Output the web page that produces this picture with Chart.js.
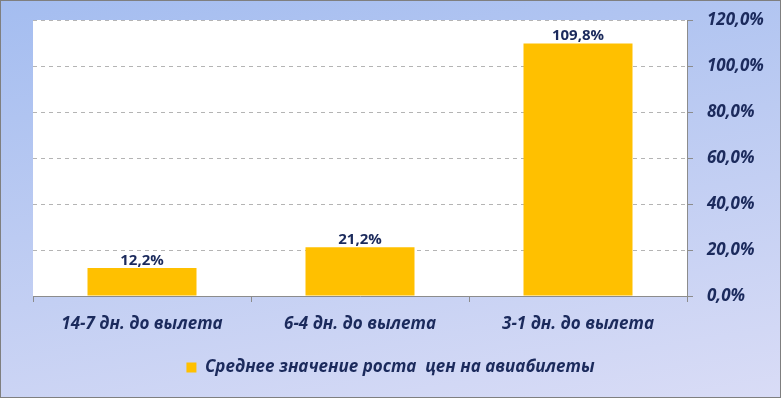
<!DOCTYPE html>
<html>
<head>
<meta charset="utf-8">
<script src="https://cdn.jsdelivr.net/npm/chart.js@4.4.1/dist/chart.umd.min.js"></script>
<style>
  html, body { margin: 0; padding: 0; }
  #wrap {
    position: relative;
    width: 779px; height: 396px;
    border: 1px solid #7f7f7f;
    background: linear-gradient(170deg, #a4bdf0 0%, #bccbf2 45%, #d9dcf6 100%);
  }
  canvas { display: block; }
</style>
</head>
<body>
<div id="wrap"><canvas id="c" width="779" height="396"></canvas></div>
<script>
// данные графика
const categories = ["14-7 дн. до вылета", "6-4 дн. до вылета", "3-1 дн. до вылета"];
const growthValues = [12.2, 21.2, 109.8];
const seriesName = "Среднее значение роста  цен на авиабилеты";
const yTicks = [0, 20, 40, 60, 80, 100, 120];

const navy = "#1b2a5c";
const fmt = (v, d) => v.toFixed(d).replace(".", ",") + "%";

// белая область построения
const plotBg = {
  id: "plotBg",
  beforeDraw(chart) {
    const { ctx, chartArea: a } = chart;
    ctx.save();
    ctx.fillStyle = "#ffffff";
    ctx.fillRect(a.left, a.top, a.right - a.left, a.bottom - a.top);
    ctx.restore();
  }
};

// подписи значений над столбцами
const valueLabels = {
  id: "valueLabels",
  afterDatasetsDraw(chart) {
    const ctx = chart.ctx;
    const meta = chart.getDatasetMeta(0);
    ctx.save();
    ctx.fillStyle = navy;
    ctx.font = "bold 15px 'Open Sans', sans-serif";
    ctx.textAlign = "center";
    ctx.textBaseline = "bottom";
    meta.data.forEach((bar, i) => {
      ctx.fillText(fmt(growthValues[i], 1), bar.x, bar.y);
    });
    ctx.restore();
  }
};

const axisFont = { family: "'Open Sans', sans-serif", size: 17, weight: "bold", style: "italic" };

new Chart(document.getElementById("c"), {
  type: "bar",
  data: {
    labels: categories,
    datasets: [{
      label: seriesName,
      data: growthValues,
      backgroundColor: "#ffc000",
      borderWidth: 0,
      categoryPercentage: 0.5,
      barPercentage: 1.0
    }]
  },
  options: {
    responsive: false,
    animation: false,
    layout: { padding: { left: 0, top: 19, right: 0, bottom: 11 } },
    plugins: {
      legend: {
        position: "bottom",
        labels: {
          color: navy,
          font: axisFont,
          boxWidth: 10,
          boxHeight: 10,
          padding: 10
        }
      },
      tooltip: { enabled: false }
    },
    scales: {
      x: {
        offset: true,
        grid: { display: true, drawOnChartArea: false, offset: true, color: "#8c8c8c", tickLength: 6 },
        border: { color: "#8c8c8c" },
        ticks: { color: navy, padding: 12, font: axisFont },
        afterFit(scale) { scale.height = 53; }
      },
      y: {
        position: "right",
        min: 0,
        max: 120,
        afterBuildTicks(scale) { scale.ticks = yTicks.map(v => ({ value: v })); },
        grid: { color: "#b4b4b4", tickLength: 6, drawTicks: true, tickColor: "#8c8c8c" },
        border: { color: "#8c8c8c", dash: [4, 4] },
        ticks: { color: navy, padding: 14, callback: v => fmt(v, 1), font: axisFont },
        afterFit(scale) {
          scale.width = 93;
          scale.paddingTop = 0;
          scale.paddingBottom = 0;
        }
      },
      // пустая левая ось — только отступ, чтобы легенда была по центру всего рисунка
      yPad: {
        position: "left",
        min: 0,
        max: 120,
        grid: { display: false },
        border: { display: false },
        ticks: { display: false },
        afterFit(scale) {
          scale.width = 32;
          scale.paddingTop = 0;
          scale.paddingBottom = 0;
        }
      }
    }
  },
  plugins: [plotBg, valueLabels]
});
</script>
</body>
</html>
